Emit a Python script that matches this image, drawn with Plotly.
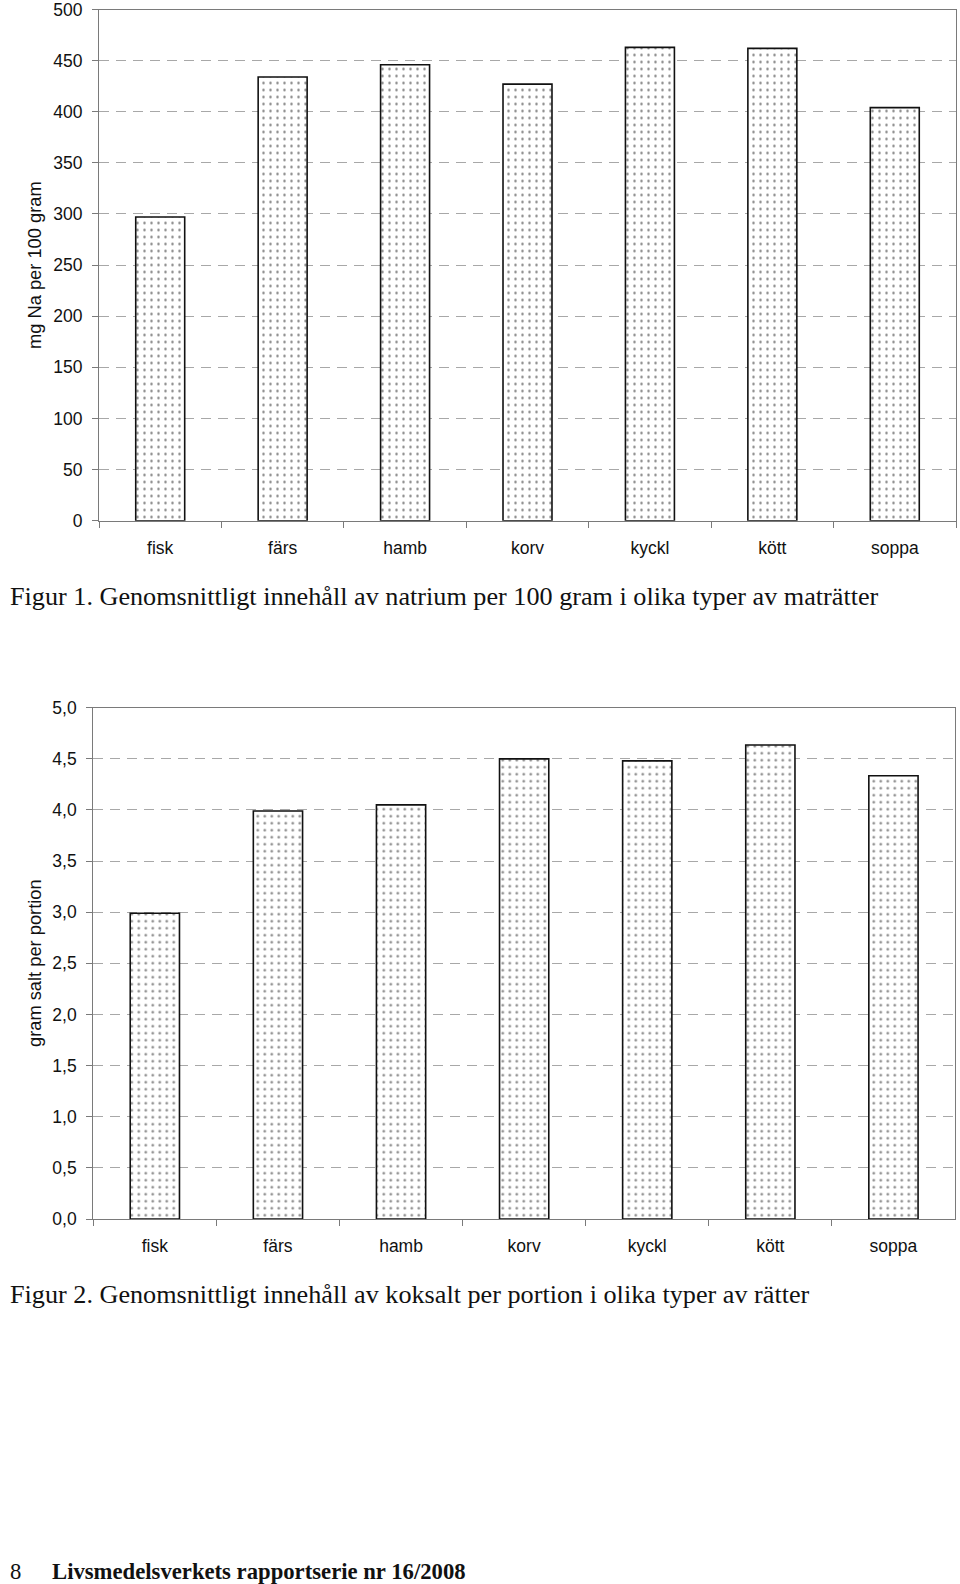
import plotly.graph_objects as go

categories = ["fisk", "färs", "hamb", "korv", "kyckl", "kött", "soppa"]
na_per_100g = [297, 434, 446, 427, 463, 462, 404]
salt_per_portion = [2.99, 3.99, 4.05, 4.50, 4.48, 4.635, 4.335]

y1_ticks = [0, 50, 100, 150, 200, 250, 300, 350, 400, 450, 500]
y1_labels = [str(v) for v in y1_ticks]
y2_ticks = [0.0, 0.5, 1.0, 1.5, 2.0, 2.5, 3.0, 3.5, 4.0, 4.5, 5.0]
y2_labels = [f"{v:.1f}".replace(".", ",") for v in y2_ticks]

W, H = 960, 1584
SANS = "Liberation Sans, Arial, sans-serif"
SERIF = "Liberation Serif, Times New Roman, serif"
AX = "#7a7a7a"
GRID = "#a8a8a8"

def px_x(p):
    return p / W

def px_y(p):
    return 1 - p / H

bar_style = dict(
    color="white",
    line=dict(color="#111111", width=1.6),
    pattern=dict(shape=".", fgcolor="#000000", bgcolor="white", size=7, solidity=0.1, fillmode="overlay"),
)

fig = go.Figure()
fig.add_trace(go.Bar(x=categories, y=na_per_100g, marker=bar_style, width=0.40,
                     xaxis="x", yaxis="y", showlegend=False))
fig.add_trace(go.Bar(x=categories, y=salt_per_portion, marker=bar_style, width=0.40,
                     xaxis="x2", yaxis="y2", showlegend=False))

xcommon = dict(type="category", showline=True, linecolor=AX, linewidth=1.2, mirror=True,
               ticks="outside", tickson="boundaries", ticklen=6, tickcolor=AX,
               tickfont=dict(family=SANS, size=17.5, color="#111"),
               showgrid=False, ticklabelstandoff=11, fixedrange=True, automargin=False)
ycommon = dict(showline=True, linecolor=AX, linewidth=1.2, mirror=True,
               ticks="outside", ticklen=6, tickcolor=AX,
               tickfont=dict(family=SANS, size=17.5, color="#111"),
               showgrid=True, gridcolor=GRID, gridwidth=1.2, griddash="10px,7px",
               zeroline=False, ticklabelstandoff=6, automargin=False,
               ticklabeloverflow="allow")

fig.update_layout(
    width=W, height=H,
    margin=dict(l=0, r=0, t=0, b=0, autoexpand=False),
    paper_bgcolor="white", plot_bgcolor="white",
    xaxis=dict(domain=[px_x(99), px_x(956)], anchor="y", **xcommon),
    yaxis=dict(domain=[px_y(520.7), px_y(9.5)], anchor="x", range=[0, 500],
               tickvals=y1_ticks, ticktext=y1_labels, **ycommon),
    xaxis2=dict(domain=[px_x(93.3), px_x(955)], anchor="y2", **xcommon),
    yaxis2=dict(domain=[px_y(1219), px_y(707.7)], anchor="x2", range=[0, 5],
                tickvals=y2_ticks, ticktext=y2_labels, **ycommon),
    bargap=0.6,
)

annotations = [
    dict(text="mg Na per 100 gram", x=px_x(35), y=px_y(265), textangle=-90,
         font=dict(family=SANS, size=18.3, color="#111")),
    dict(text="gram salt per portion", x=px_x(35), y=px_y(963), textangle=-90,
         font=dict(family=SANS, size=18.3, color="#111")),
    dict(text="Figur 1. Genomsnittligt innehåll av natrium per 100 gram i olika typer av maträtter",
         x=px_x(8), y=px_y(596), xanchor="left",
         font=dict(family=SERIF, size=26.2, color="#111")),
    dict(text="Figur 2. Genomsnittligt innehåll av koksalt per portion i olika typer av rätter",
         x=px_x(8), y=px_y(1294), xanchor="left",
         font=dict(family=SERIF, size=26.2, color="#111")),
    dict(text="8", x=px_x(8), y=px_y(1571), xanchor="left",
         font=dict(family=SERIF, size=22.7, color="#111")),
    dict(text="<b>Livsmedelsverkets rapportserie nr 16/2008</b>", x=px_x(50), y=px_y(1571), xanchor="left",
         font=dict(family=SERIF, size=22.7, color="#111")),
]
for a in annotations:
    a.update(xref="paper", yref="paper", showarrow=False, yanchor="middle")
    a.setdefault("xanchor", "center")
fig.update_layout(annotations=annotations)

fig.write_html("out.html")
